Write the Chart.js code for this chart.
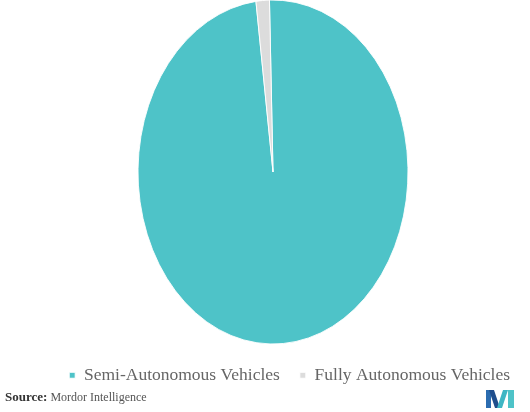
<!DOCTYPE html>
<html>
<head>
<meta charset="utf-8">
<script src="https://cdn.jsdelivr.net/npm/chart.js@4.4.0/dist/chart.umd.min.js"></script>
<style>
  body { margin: 0; background: #fff; }
  #wrap { position: relative; width: 530px; height: 412px; }
  #source { position: absolute; left: 5px; top: 389px; font-family: "Liberation Serif", serif; font-size: 12px; color: #555; }
  #source b { color: #333; font-size: 13px; }
  #logo { position: absolute; left: 486px; top: 388px; }
</style>
</head>
<body>
<div id="wrap">
  <canvas id="pie" width="530" height="412"></canvas>
  <div id="source"><b>Source:</b> Mordor Intelligence</div>
  <svg id="logo" width="30" height="22" viewBox="0 0 30 22">
    <polygon points="0,2 5,2 5,20 0,20" fill="#2b6cb0"/>
    <polygon points="3,2 8,2 14,20 9,20" fill="#1f4e8c"/>
    <polygon points="11,20 17,2 22,2 16,20" fill="#3fb6c4"/>
    <polygon points="22,2 28,2 28,20 22,20" fill="#4ec3c8"/>
  </svg>
</div>
<script>
// datos
const categorias = ['Semi-Autonomous Vehicles', 'Fully Autonomous Vehicles'];
const valores = [98.4, 1.6];
const colores = ['#4ec3c8', '#dcdcdc'];

// estira el círculo en una elipse como en la imagen original
const elipse = {
    id: 'elipse',
    beforeDatasetsDraw(chart, args, opts) {
        const arc = chart.getDatasetMeta(0).data[0];
        const ctx = chart.ctx;
        ctx.save();
        ctx.translate(opts.cx, opts.cy);
        ctx.scale(opts.rx / arc.outerRadius, opts.ry / arc.outerRadius);
        ctx.translate(-arc.x, -arc.y);
    },
    afterDatasetsDraw(chart) {
        chart.ctx.restore();
    }
};

const ctx = document.getElementById('pie').getContext('2d');
new Chart(ctx, {
    type: 'pie',
    data: {
        labels: categorias,
        datasets: [{
            data: valores,
            backgroundColor: colores,
            borderColor: '#ffffff',
            borderWidth: 1
        }]
    },
    options: {
        responsive: false,
        animation: false,
        rotation: -1.5,
        layout: { padding: { left: 0, right: 0, top: 0, bottom: 18 } },
        plugins: {
            elipse: { cx: 273, cy: 172, rx: 135, ry: 172 },
            tooltip: { enabled: false },
            legend: {
                position: 'bottom',
                align: 'end',
                labels: {
                    boxWidth: 6,
                    boxHeight: 6,
                    padding: 20,
                    color: '#666',
                    font: { family: "'Liberation Serif', serif", size: 17.5 }
                }
            }
        }
    },
    plugins: [elipse]
});
</script>
</body>
</html>
